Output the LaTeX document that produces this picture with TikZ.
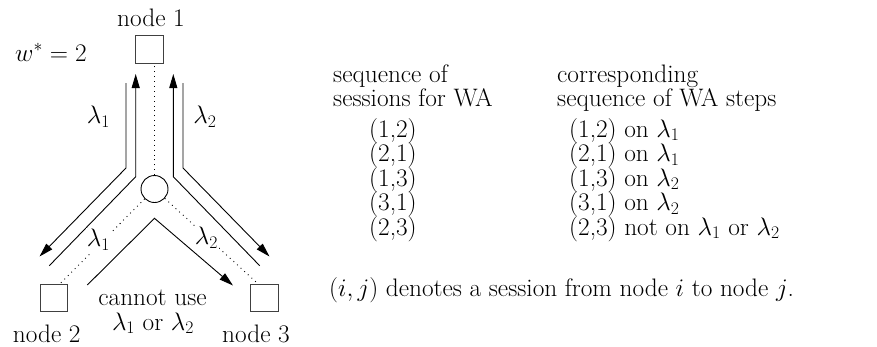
\RequirePackage{fix-cm}
\documentclass[tikz,border=0pt]{standalone}
\usetikzlibrary{arrows.meta}
\begin{document}
\begin{tikzpicture}[x=1pt,y=-1pt,
  txt/.style={font=\fontsize{25.3}{28}\selectfont, inner sep=0pt},
  row/.style={txt, anchor=base west, text height=15pt, text depth=4pt},
  box/.style={draw=black!75, line width=0.9pt, minimum size=27.5pt, inner sep=0pt},
  lane/.style={line width=0.9pt, line join=miter},
  arr/.style={lane, -{Triangle[length=14pt,width=8pt]}},
  dots/.style={line width=0.9pt, dash pattern=on 0.9pt off 4pt},
]
\useasboundingbox (0,0) rectangle (877,346);

% network: three end nodes around a central hub
\node[box] (n1) at (149.5,49.5) {};
\node[box] (n2) at (53.8,298) {};
\node[box] (n3) at (264.2,298) {};
\node[draw, circle, line width=0.9pt, minimum size=27pt, inner sep=0pt] (hub) at (154.5,189) {};

% links (dotted)
\coordinate (d2) at ([xshift=6.2pt]n2.north);
\coordinate (d3) at ([xshift=-6.2pt]n3.north);
\draw[dots] (hub) -- (hub.north |- n1.south);
\draw[dots] (hub) -- (d2);
\draw[dots] (hub) -- (d3);

% wavelength lanes
\coordinate (a1) at (126,83);    \coordinate (a2) at (126,168);    \coordinate (a3) at (39.5,256.5);
\coordinate (b1) at (49.3,265.7); \coordinate (b2) at (135.7,176.7); \coordinate (b3) at (135.7,74);
\coordinate (c1) at (183,83);    \coordinate (c2) at (183,168);    \coordinate (c3) at (269.5,256.5);
\coordinate (e1) at (259.7,265.7); \coordinate (e2) at (173.3,176.7); \coordinate (e3) at (173.3,74);
\coordinate (v1) at (87.3,285);  \coordinate (v2) at (154.5,218.3); \coordinate (v3) at (233,285.5);
\draw[arr] (a1) -- (a2) -- (a3);
\draw[arr] (b1) -- (b2) -- (b3);
\draw[arr] (c1) -- (c2) -- (c3);
\draw[arr] (e1) -- (e2) -- (e3);
\draw[arr] (v1) -- (v2) -- (v3);

% labels of the network
\node[txt, anchor=base] (t1) at (151,26) {node 1};
\node[txt, anchor=base] (t2) at (46.7,342) {node 2};
\node[txt, anchor=base] (t3) at (256,342) {node 3};
\node[txt, anchor=base west] (w) at (15,61) {$w^* = 2$};
\node[txt] (la1) at (98.5,117) {$\lambda_1$};
\node[txt] (la2) at (205,117) {$\lambda_2$};
\node[txt, fill=white, inner sep=1pt] (lb1) at (98.5,240) {$\lambda_1$};
\node[txt, fill=white, inner sep=1pt] (lb2) at (206.5,238) {$\lambda_2$};
\node[txt, anchor=base] (cu) at (152.5,305) {cannot use};
\node[txt, anchor=base] (cl) at (153,330) {$\lambda_1$ or $\lambda_2$};

% table of sessions
\node[row] (h1) at (333,82) {sequence of};
\node[row] (h2) at (333,106) {sessions for WA};
\node[row] (h3) at (557,82) {corresponding};
\node[row] (h4) at (557,106) {sequence of WA steps};
\foreach \s/\r [count=\k] in {(1,2)/{(1,2) on $\lambda_1$},
                              (2,1)/{(2,1) on $\lambda_1$},
                              (1,3)/{(1,3) on $\lambda_2$},
                              (3,1)/{(3,1) on $\lambda_2$},
                              (2,3)/{(2,3) not on $\lambda_1$ or $\lambda_2$}}{
  \node[row] (s\k) at (369,{112.5+24.5*\k}) {\s};
  \node[row] (r\k) at (569,{112.5+24.5*\k}) {\r};
}
\node[txt, anchor=base west] (note) at (329,296) {$(i,j)$ denotes a session from node $i$ to node $j$.};
\end{tikzpicture}
\end{document}
